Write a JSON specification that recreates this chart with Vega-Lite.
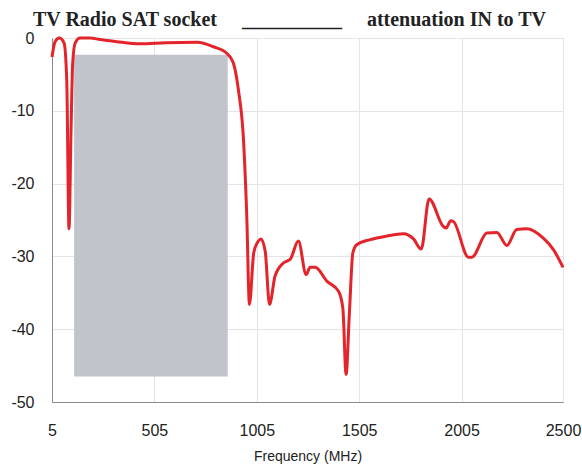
{
  "$schema": "https://vega.github.io/schema/vega-lite/v6.json",
  "width": 511,
  "height": 364,
  "autosize": {"type": "none"},
  "padding": {"left": 52, "top": 38, "right": 19, "bottom": 69},
  "background": "white",
  "title": {
    "text": "TV Radio SAT socket\u00a0\u00a0\u00a0\u00a0\u00a0__________\u00a0\u00a0\u00a0\u00a0\u00a0attenuation IN to TV",
    "anchor": "start",
    "frame": "group",
    "orient": "top",
    "baseline": "bottom",
    "offset": 10,
    "dx": -19,
    "dy": 30,
    "font": "Liberation Serif",
    "fontSize": 20,
    "fontWeight": "bold",
    "color": "#222222"
  },
  "datasets": {
    "curve": [
      {"f": 5, "a": -2.6}, {"f": 20, "a": -0.5}, {"f": 41, "a": 0}, {"f": 64, "a": -0.7},
      {"f": 77, "a": -5.8}, {"f": 88, "a": -26.2}, {"f": 98, "a": -12.6}, {"f": 106, "a": -3.5},
      {"f": 118, "a": -0.7}, {"f": 142, "a": 0}, {"f": 191, "a": 0}, {"f": 240, "a": -0.2},
      {"f": 321, "a": -0.5}, {"f": 435, "a": -0.8}, {"f": 565, "a": -0.65}, {"f": 712, "a": -0.6},
      {"f": 793, "a": -1.2}, {"f": 858, "a": -2.1}, {"f": 890, "a": -3.4}, {"f": 915, "a": -7.1},
      {"f": 940, "a": -14}, {"f": 956, "a": -24.5}, {"f": 969, "a": -36.6}, {"f": 990, "a": -29.5},
      {"f": 1010, "a": -28}, {"f": 1025, "a": -27.6}, {"f": 1046, "a": -29.3}, {"f": 1067, "a": -36.6},
      {"f": 1094, "a": -32.7}, {"f": 1135, "a": -30.9}, {"f": 1168, "a": -30.4}, {"f": 1208, "a": -27.9},
      {"f": 1246, "a": -32.5}, {"f": 1265, "a": -31.5}, {"f": 1290, "a": -31.5}, {"f": 1347, "a": -33.4},
      {"f": 1404, "a": -34.8}, {"f": 1425, "a": -37.1}, {"f": 1441, "a": -46.2}, {"f": 1457, "a": -37.8},
      {"f": 1474, "a": -29.5}, {"f": 1493, "a": -28.4}, {"f": 1558, "a": -27.7}, {"f": 1640, "a": -27.2},
      {"f": 1721, "a": -26.9}, {"f": 1770, "a": -27.6}, {"f": 1808, "a": -29.0}, {"f": 1846, "a": -22.1},
      {"f": 1916, "a": -25.9}, {"f": 1929, "a": -26.1}, {"f": 1952, "a": -25.1}, {"f": 1965, "a": -25.2},
      {"f": 2038, "a": -30.1}, {"f": 2055, "a": -30.1}, {"f": 2128, "a": -26.8}, {"f": 2177, "a": -26.7},
      {"f": 2226, "a": -28.5}, {"f": 2274, "a": -26.3}, {"f": 2323, "a": -26.2}, {"f": 2404, "a": -27.5},
      {"f": 2454, "a": -29.1}, {"f": 2500, "a": -31.5}
    ],
    "band": [{"f1": 113, "f2": 863, "a1": -2.3, "a2": -46.5}]
  },
  "config": {
    "view": {"stroke": "#c9ccd3", "strokeWidth": 1},
    "axis": {
      "labelFont": "Liberation Sans",
      "titleFont": "Liberation Sans",
      "labelColor": "#222222",
      "titleColor": "#222222",
      "gridColor": "#e2e4ea",
      "gridWidth": 1,
      "domainColor": "#8a8a8a",
      "ticks": false
    }
  },
  "layer": [
    {
      "data": {"name": "band"},
      "mark": {"type": "rect", "color": "#c1c4cb"},
      "encoding": {
        "x": {"field": "f1", "type": "quantitative"},
        "x2": {"field": "f2"},
        "y": {"field": "a1", "type": "quantitative"},
        "y2": {"field": "a2"}
      }
    },
    {
      "data": {"name": "curve"},
      "mark": {"type": "line", "color": "#e3242b", "strokeWidth": 3, "interpolate": "monotone"},
      "encoding": {
        "x": {
          "field": "f",
          "type": "quantitative",
          "scale": {"domain": [5, 2500], "nice": false, "zero": false},
          "axis": {
            "values": [5, 505, 1005, 1505, 2005, 2500],
            "labelExpr": "'' + datum.value",
            "title": "Frequency (MHz)",
            "labelFontSize": 16,
            "titleFontSize": 14,
            "titleFontWeight": "normal",
            "labelPadding": 20,
            "titlePadding": 11,
            "labelFlush": false
          }
        },
        "y": {
          "field": "a",
          "type": "quantitative",
          "scale": {"domain": [-50, 0], "nice": false},
          "axis": {
            "values": [0, -10, -20, -30, -40, -50],
            "labelExpr": "'' + datum.value",
            "title": null,
            "labelFontSize": 16,
            "labelPadding": 18
          }
        }
      }
    }
  ]
}
